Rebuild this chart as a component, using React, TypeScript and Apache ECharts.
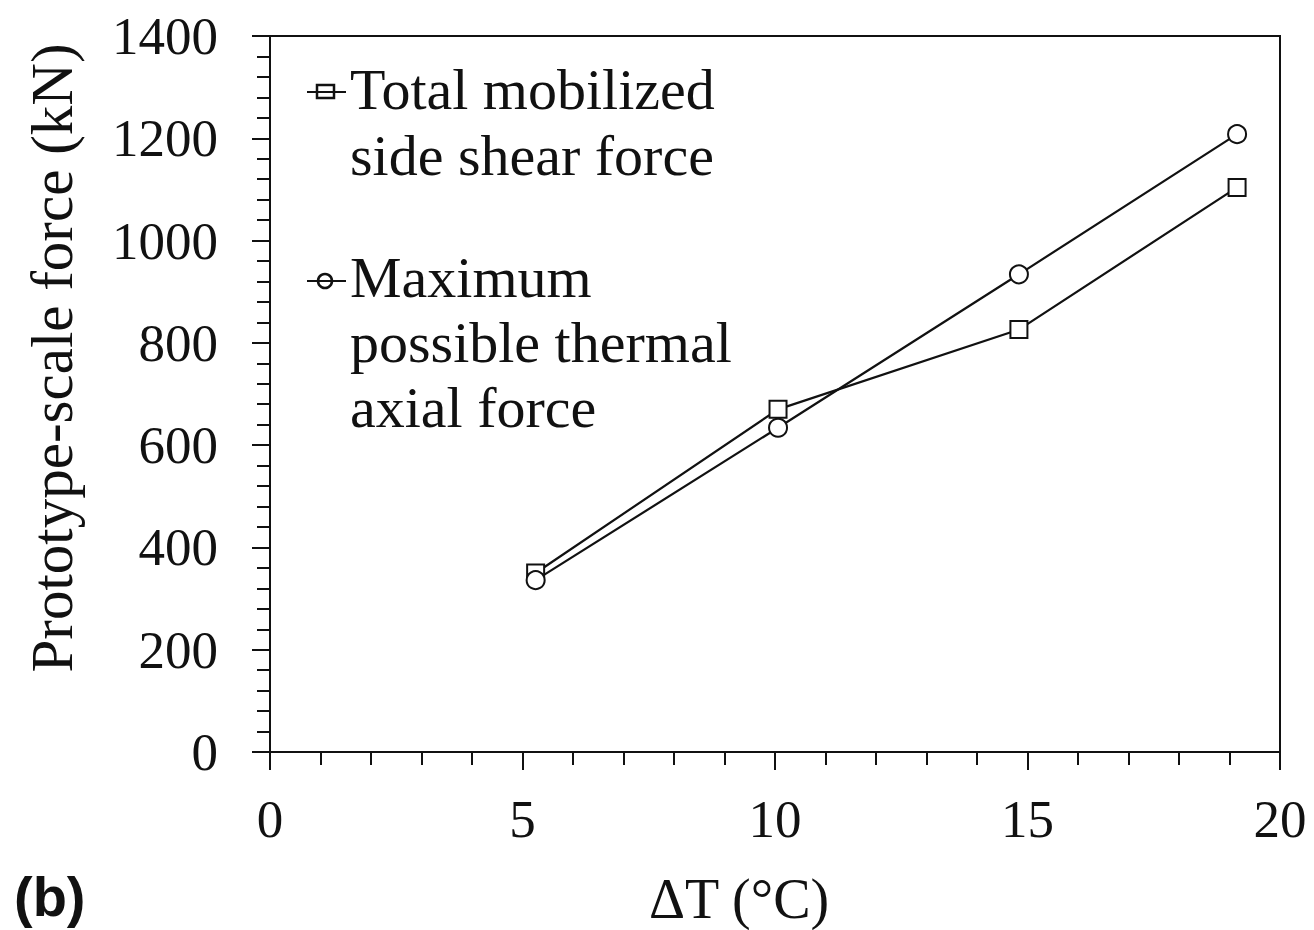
import React, { useEffect, useRef } from "react";
import * as echarts from "echarts";

const deltaT = [5.26, 10.06, 14.83, 19.15];
const sideShear = [350, 670, 826, 1104];
const thermalAxial = [336, 634, 934, 1208];
const seriesNames = ["Total mobilized\nside shear force", "Maximum\npossible thermal\naxial force"];
const xTitle = "ΔT (°C)";
const yTitle = "Prototype-scale force (kN)";
const panelLabel = "(b)";

const SERIF = "'Liberation Serif', 'Times New Roman', serif";

export default function App() {
  const ref = useRef<HTMLDivElement>(null);
  useEffect(() => {
    if (!ref.current) return;
    const chart = echarts.init(ref.current, undefined, { renderer: "svg" });
    const black = "#111";
    const option: any = {
      animation: false,
      backgroundColor: "#fff",
      grid: {
        left: 270,
        right: 34,
        top: 36,
        bottom: 178,
        show: true,
        borderColor: black,
        borderWidth: 2,
        backgroundColor: "transparent",
      },
      xAxis: {
        type: "value",
        min: 0,
        max: 20,
        interval: 5,
        axisLine: { show: true, lineStyle: { color: black, width: 2 } },
        axisTick: { show: true, inside: false, length: 18, lineStyle: { color: black, width: 2 } },
        minorTick: { show: true, splitNumber: 5, length: 13, lineStyle: { color: black, width: 2 } },
        splitLine: { show: false },
        axisLabel: { color: black, fontFamily: SERIF, fontSize: 53, margin: 40, formatter: (v: number) => String(v) },
      },
      yAxis: {
        type: "value",
        min: 0,
        max: 1400,
        interval: 200,
        axisLine: { show: true, lineStyle: { color: black, width: 2 } },
        axisTick: { show: true, inside: false, length: 18, lineStyle: { color: black, width: 2 } },
        minorTick: { show: true, splitNumber: 5, length: 13, lineStyle: { color: black, width: 2 } },
        splitLine: { show: false },
        axisLabel: { color: black, fontFamily: SERIF, fontSize: 53, margin: 52, formatter: (v: number) => String(v) },
      },
      series: [
        {
          name: seriesNames[0],
          type: "line",
          data: deltaT.map((x, i) => [x, sideShear[i]]),
          symbol: "emptyRect",
          symbolSize: 17,
          lineStyle: { color: black, width: 2.2 },
          itemStyle: { color: black, borderWidth: 2.2 },
        },
        {
          name: seriesNames[1],
          type: "line",
          data: deltaT.map((x, i) => [x, thermalAxial[i]]),
          symbol: "emptyCircle",
          symbolSize: 18,
          lineStyle: { color: black, width: 2.2 },
          itemStyle: { color: black, borderWidth: 2.2 },
        },
      ],
      graphic: [
        // legend entry 1
        { type: "line", shape: { x1: 307, y1: 92, x2: 346, y2: 92 }, style: { stroke: black, lineWidth: 2 }, z: 10 },
        { type: "rect", shape: { x: 317, y: 85, width: 17, height: 13 }, style: { stroke: black, lineWidth: 2.5, fill: "transparent" }, z: 11 },
        {
          type: "text",
          x: 350,
          y: 56,
          z: 10,
          style: { text: seriesNames[0], font: `58px ${SERIF}`, fill: black, lineHeight: 66, verticalAlign: "top", align: "left" },
        },
        // legend entry 2
        { type: "line", shape: { x1: 307, y1: 281, x2: 346, y2: 281 }, style: { stroke: black, lineWidth: 2 }, z: 10 },
        { type: "circle", shape: { cx: 325, cy: 281, r: 7 }, style: { stroke: black, lineWidth: 2.5, fill: "transparent" }, z: 11 },
        {
          type: "text",
          x: 350,
          y: 245,
          z: 10,
          style: { text: seriesNames[1], font: `58px ${SERIF}`, fill: black, lineHeight: 65, verticalAlign: "top", align: "left" },
        },
        // axis titles
        {
          type: "text",
          x: 739,
          y: 899,
          style: { text: xTitle, font: `56px ${SERIF}`, fill: black, align: "center", verticalAlign: "middle" },
        },
        {
          type: "text",
          x: 52,
          y: 358,
          rotation: Math.PI / 2,
          style: { text: yTitle, font: `59px ${SERIF}`, fill: black, align: "center", verticalAlign: "middle" },
        },
        {
          type: "text",
          x: 14,
          y: 896,
          style: { text: panelLabel, font: `bold 56px 'Liberation Sans', Arial, sans-serif`, fill: black, align: "left", verticalAlign: "middle" },
        },
      ],
    };
    chart.setOption(option);
    return () => chart.dispose();
  }, []);
  return (
    <div
      ref={ref}
      style={{ position: "absolute", left: 0, top: 0, width: 1314, height: 930, background: "#fff" }}
    />
  );
}
